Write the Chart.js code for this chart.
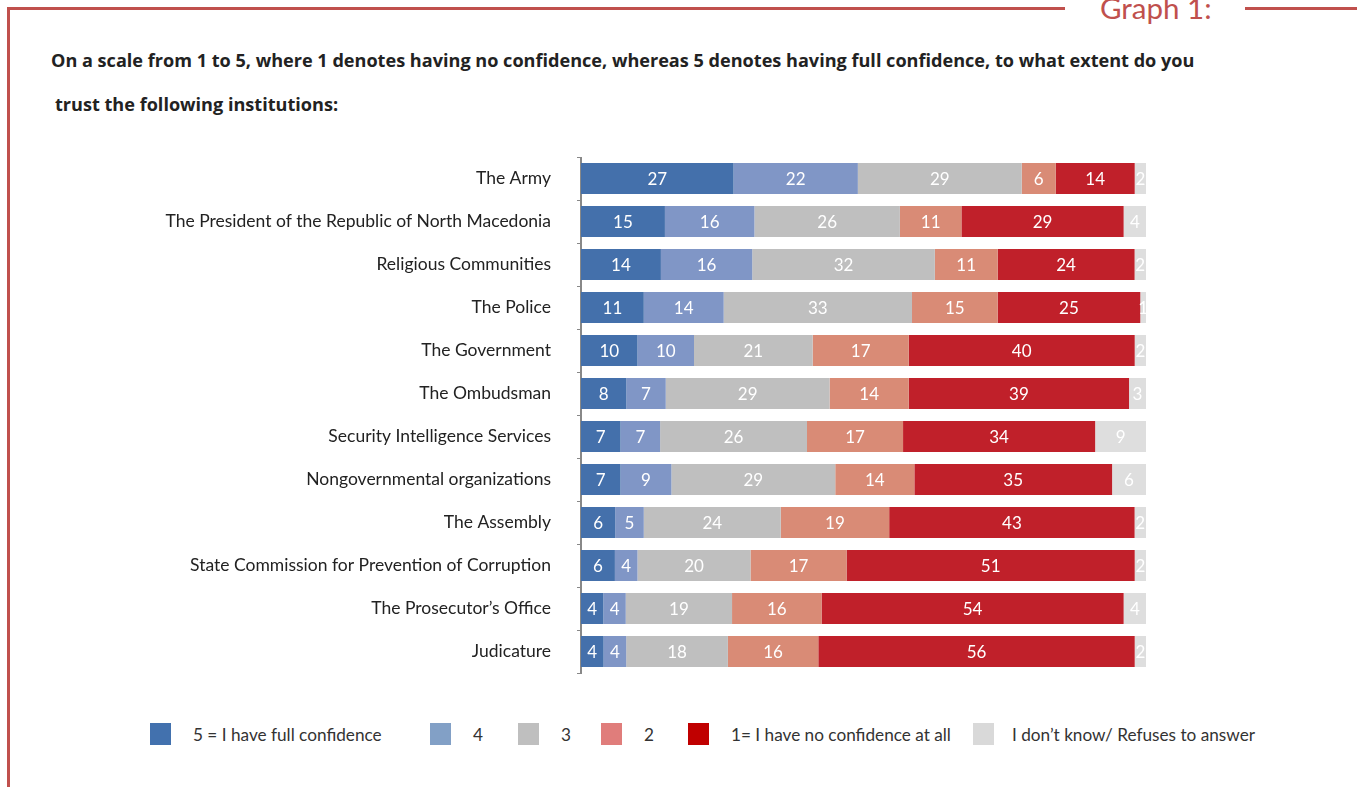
<!DOCTYPE html>
<html>
<head>
<meta charset="utf-8">
<script src="https://cdn.jsdelivr.net/npm/chart.js@4"></script>
<style>
    body { margin: 0; background: #fff; font-family: Lato, "Noto Sans", sans-serif; }
    #page { position: relative; width: 1357px; height: 787px; overflow: hidden; }
    .frame-top { position: absolute; top: 7px; height: 3px; background: #c0504d; }
    .frame-left { position: absolute; left: 7px; top: 7px; width: 3px; height: 800px; background: #c0504d; }
    #graph-no { position: absolute; left: 1100px; top: -10px; font-size: 29.5px; color: #c0504d; }
    .title { position: absolute; font-family: "Open Sans", sans-serif; font-weight: bold; font-size: 18.1px; color: #222; white-space: nowrap; }
    #chart-box { position: absolute; left: 0; top: 157px; width: 1146px; height: 520px; }
    .legend { position: absolute; top: 723px; font-size: 17.2px; color: #333; }
    .legend span.box { position: absolute; width: 21px; height: 22px; top: 0; }
    .legend span.txt { position: absolute; top: 1px; white-space: nowrap; }
</style>
</head>
<body>
<div id="page">
    <div class="frame-top" style="left:7px; width:1058px;"></div>
    <div class="frame-top" style="left:1245px; width:112px;"></div>
    <div class="frame-left"></div>
    <div id="graph-no">Graph 1:</div>
    <div class="title" style="left:51px; top:48px;">On a scale from 1 to 5, where 1 denotes having no confidence, whereas 5 denotes having full confidence, to what extent do you</div>
    <div class="title" style="left:55px; top:92px;">trust the following institutions:</div>
    <div id="chart-box"><canvas id="trustChart" width="1146" height="520"></canvas></div>
    <div class="legend" id="legend"></div>
</div>

<script>
const institutions = [
    'The Army',
    'The President of the Republic of North Macedonia',
    'Religious Communities',
    'The Police',
    'The Government',
    'The Ombudsman',
    'Security Intelligence Services',
    'Nongovernmental organizations',
    'The Assembly',
    'State Commission for Prevention of Corruption',
    'The Prosecutor\u2019s Office',
    'Judicature'
];

const full = [27, 15, 14, 11, 10, 8, 7, 7, 6, 6, 4, 4];
const four = [22, 16, 16, 14, 10, 7, 7, 9, 5, 4, 4, 4];
const three = [29, 26, 32, 33, 21, 29, 26, 29, 24, 20, 19, 18];
const two = [6, 11, 11, 15, 17, 14, 17, 14, 19, 17, 16, 16];
const none = [14, 29, 24, 25, 40, 39, 34, 35, 43, 51, 54, 56];
const dontKnow = [2, 4, 2, 1, 2, 3, 9, 6, 2, 2, 4, 2];

const seriesNames = ['5 = I have full confidence', '4', '3', '2', '1= I have no confidence at all', 'I don\u2019t know/ Refuses to answer'];
const barColors = ['#4470ab', '#8096c6', '#bfbfbf', '#d98b76', '#c0202a', '#dedede'];
const legendColors = ['#4271ae', '#82a0c6', '#bfbfbf', '#e07d7b', '#c00000', '#d9d9d9'];

const series = [full, four, three, two, none, dontKnow];

// 100% stacked: each row is scaled to its own total
const rowTotals = institutions.map((_, i) => series.reduce((s, arr) => s + arr[i], 0));

const datasets = series.map((arr, k) => ({
    label: seriesNames[k],
    data: arr.map((v, i) => v / rowTotals[i] * 100),
    raw: arr,
    backgroundColor: barColors[k],
    borderWidth: 0,
    barPercentage: 0.72,
    categoryPercentage: 1
}));

const segmentLabels = {
    id: 'segmentLabels',
    afterDatasetsDraw(chart) {
        const ctx = chart.ctx;
        const area = chart.chartArea;
        ctx.save();
        ctx.beginPath();
        ctx.rect(area.left, area.top, area.right - area.left, area.bottom - area.top);
        ctx.clip();
        ctx.fillStyle = '#fff';
        ctx.font = '17px Lato, "Noto Sans", sans-serif';
        ctx.textAlign = 'center';
        ctx.textBaseline = 'middle';
        chart.data.datasets.forEach((ds, k) => {
            chart.getDatasetMeta(k).data.forEach((bar, i) => {
                const cx = (bar.x + bar.base) / 2;
                ctx.fillText(String(ds.raw[i]), cx, bar.y + 1);
            });
        });
        ctx.restore();
    }
};

new Chart(document.getElementById('trustChart'), {
    type: 'bar',
    data: { labels: institutions, datasets: datasets },
    options: {
        indexAxis: 'y',
        responsive: false,
        animation: false,
        layout: { padding: { bottom: 4 } },
        plugins: {
            legend: { display: false },
            tooltip: { enabled: false }
        },
        scales: {
            x: {
                stacked: true,
                min: 0,
                max: 100,
                display: false
            },
            y: {
                stacked: true,
                afterFit: scale => {
                    scale.width = 581;
                    scale.paddingTop = 0;
                    scale.paddingBottom = 0;
                },
                border: { color: '#888', width: 2 },
                grid: {
                    drawOnChartArea: false,
                    drawTicks: true,
                    tickLength: 4,
                    color: '#888',
                    offset: true
                },
                ticks: {
                    color: '#222',
                    padding: 26,
                    font: { family: 'Lato, "Noto Sans", sans-serif', size: 17.5 }
                }
            }
        }
    },
    plugins: [segmentLabels]
});

// legend drawn as html so item spacing can follow the report layout
const legendX = [150, 430, 518, 601, 688, 973];
const legendEl = document.getElementById('legend');
seriesNames.forEach((name, k) => {
    const box = document.createElement('span');
    box.className = 'box';
    box.style.left = legendX[k] + 'px';
    box.style.background = legendColors[k];
    const txt = document.createElement('span');
    txt.className = 'txt';
    txt.style.left = (legendX[k] + (k === 5 ? 39 : 43)) + 'px';
    txt.textContent = name;
    legendEl.appendChild(box);
    legendEl.appendChild(txt);
});
</script>
</body>
</html>
